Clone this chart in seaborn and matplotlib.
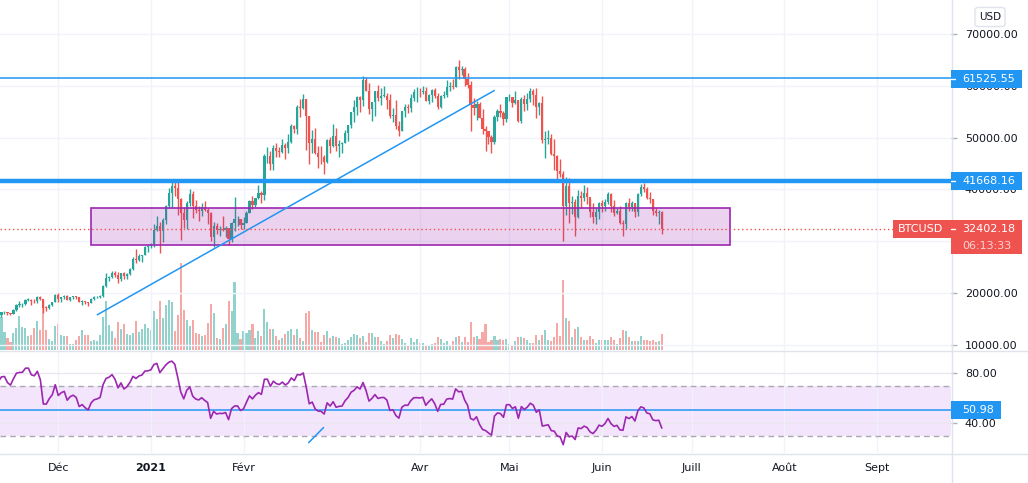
import numpy as np
import pandas as pd
import matplotlib
matplotlib.use("Agg")
import matplotlib.pyplot as plt
import matplotlib.dates as mdates
from matplotlib.patches import Rectangle, FancyBboxPatch
from matplotlib.lines import Line2D
import seaborn as sns

# ---------------- data ----------------
start_date = "2020-11-11"
first_open = 15300

closes = [
    15700, 16290, 16330, 16070, 15960, 16720, 17650, 17800, 17820, 18680,
    18710, 18410, 18370, 19150, 18750, 17150, 17140, 17720, 18180, 19700,
    # Dec
    18790, 19220, 19440, 18650, 19150, 19360, 19170, 18320, 18550, 18250,
    18030, 18800, 19170, 19270, 19440, 21380, 22800, 23130, 23860, 23480,
    22740, 23820, 23240, 23730, 24710, 26490, 26280, 27080, 27390, 28880, 28990,
    # Jan
    29400, 32200, 33000, 32030, 34030, 36820, 39370, 40670, 40240, 38240,
    35540, 34010, 37390, 39150, 36830, 36070, 35820, 36630, 36000, 35470,
    30850, 33000, 32100, 32290, 32250, 32500, 30400, 33450, 34270, 34300, 33100,
    # Feb
    33530, 35500, 37680, 36980, 38300, 39240, 38890, 46450, 46480, 44850,
    48000, 47400, 47200, 48600, 47950, 49150, 52150, 51600, 55900, 55800,
    57400, 54100, 48900, 49700, 47100, 46300, 46200, 45200,
    # Mar
    49600, 48450, 50350, 48370, 48750, 48880, 50970, 52380, 54880, 55850,
    57800, 57230, 61180, 59000, 55600, 56900, 58900, 57650, 58050, 58100,
    57350, 54080, 54340, 52300, 51300, 55050, 55850, 55800, 57600, 58760, 58800,
    # Apr
    58720, 58970, 57060, 58200, 59130, 57990, 56000, 58090, 58130, 59770,
    59980, 59860, 63580, 62960, 63160, 61330, 60060, 56200, 55680, 56500,
    53800, 51700, 51190, 50110, 49070, 54030, 55040, 54840, 53560, 57750,
    # May
    57830, 56630, 57200, 53240, 57500, 56430, 57380, 58930, 58280, 55860,
    56750, 49500, 49700, 49900, 46760, 46450, 43540, 42900, 36700, 40600,
    37300, 37500, 34700, 38800, 38400, 39300, 38450, 35700, 34600, 35680, 37300,
    # Jun
    36700, 37560, 39190, 36850, 35520, 35800, 33580, 33400, 37390, 36690,
    37340, 35550, 39020, 40530, 40140, 38350, 38090, 35820, 35480, 35600, 32402.18,
]

highs = [
    15960, 16350, 16490, 16340, 16150, 16880, 17850, 18480, 18150, 18800,
    18960, 18750, 18770, 19420, 19480, 18900, 17450, 17880, 18330, 19860,
    19920, 19300, 19550, 19520, 19170, 19420, 19400, 19280, 18640, 18550,
    18280, 18950, 19400, 19350, 19550, 21560, 23770, 23280, 24200, 24300,
    24100, 23840, 24150, 23800, 24780, 26870, 28420, 27500, 27400, 28990, 29320,
    29680, 33300, 34800, 33620, 34500, 36950, 40200, 41950, 41350, 41400,
    38300, 36600, 37850, 40100, 39700, 37900, 36800, 37400, 37850, 36400,
    35600, 33800, 33450, 32950, 34850, 32900, 32550, 33750, 38500, 34900, 34300,
    34700, 35900, 37900, 38700, 38300, 40900, 39700, 46800, 48200, 47350,
    48600, 48950, 48100, 49700, 49000, 50600, 52600, 52500, 56300, 57500,
    58350, 57500, 54200, 51400, 51900, 48300, 48400, 46600,
    49800, 50200, 52600, 51800, 49450, 49200, 51400, 52400, 54900, 57300,
    58100, 58000, 61800, 61700, 60600, 56900, 58950, 60100, 59500, 59900,
    58600, 58400, 55800, 57200, 53200, 55100, 56500, 56500, 58400, 59400, 59800,
    59500, 60000, 59800, 58500, 59300, 59500, 58650, 58150, 58900, 61200,
    60700, 61300, 63800, 64900, 63800, 63600, 62500, 61000, 57600, 57000,
    56800, 55500, 52200, 51200, 50500, 54400, 55500, 56400, 55200, 57900,
    58450, 57900, 58950, 57200, 57900, 58300, 58600, 59500, 59300, 59600,
    56900, 58000, 51300, 51500, 50700, 49800, 46600, 45800, 43500, 42400,
    42200, 38800, 38200, 39900, 39700, 40800, 40400, 38200, 37300, 36400, 37500,
    37900, 38200, 39500, 39300, 37900, 36400, 36800, 34100, 37500, 38400,
    37700, 37400, 39400, 41000, 41300, 40500, 39500, 38200, 36400, 36100, 35750,
]

lows = [
    15280, 15450, 15950, 15750, 15800, 15880, 16550, 17220, 17350, 17750,
    18400, 17650, 18000, 18100, 18580, 16200, 16500, 16880, 17530, 18180,
    18320, 18340, 18920, 18580, 18500, 18860, 18900, 18230, 17650, 17910,
    17570, 18000, 18730, 19000, 19050, 19300, 21250, 22350, 22800, 23080,
    21900, 22350, 22700, 22700, 23450, 24500, 25850, 26100, 25900, 27320, 27970,
    28650, 28950, 32000, 27700, 29900, 33400, 36350, 36500, 38700, 35100,
    30300, 32500, 32400, 36700, 34400, 35400, 33900, 34800, 35900, 33400,
    30100, 28800, 31400, 30950, 31950, 30850, 29250, 29900, 31950, 32850, 32300,
    32300, 33450, 35400, 36200, 36600, 38200, 37400, 38000, 45100, 43800,
    43700, 46200, 46200, 47050, 45900, 47100, 48950, 50900, 50700, 53900,
    55500, 47600, 44900, 47000, 46900, 44200, 45000, 43000,
    45100, 47100, 48200, 47500, 46300, 47100, 48900, 49300, 51900, 53000,
    54300, 55000, 56100, 59000, 54600, 53300, 54200, 57000, 56300, 57800,
    55500, 53700, 53000, 51700, 50400, 51300, 53900, 54700, 54900, 57000, 56800,
    57900, 58400, 57000, 56500, 56800, 57600, 55500, 55800, 57650, 57900,
    59000, 59400, 59800, 61300, 62000, 60000, 59600, 51300, 54300, 53400,
    53700, 50600, 47500, 48800, 47000, 48800, 53300, 53900, 52400, 53100,
    57000, 56000, 56500, 53100, 52900, 55200, 55300, 56900, 56300, 53700,
    54400, 48900, 46000, 48800, 46600, 43800, 42100, 42300, 30000, 35000,
    33500, 35300, 31100, 34400, 36500, 37800, 37200, 34700, 33600, 33400, 34200,
    35700, 35900, 37200, 35600, 34800, 35300, 33400, 31000, 32400, 35800,
    35900, 34600, 34800, 38700, 39500, 38100, 37400, 35100, 34800, 33350, 31300,
]

# relative volume (bar heights)
volumes = [
    25,
    33, 18, 12, 8, 17, 22, 34, 23, 22, 14, 15, 22, 29, 20, 48, 20, 11, 9, 24,
    26, 15, 14, 14, 6, 6, 10, 14, 20, 15, 15, 9, 10, 9, 15, 33, 49, 25, 19, 12,
    28, 21, 26, 16, 15, 17, 29, 18, 21, 26, 22,
    20, 39, 31, 49, 32, 45, 50,
    48, 19, 35, 87, 40, 30, 24, 30, 17, 16, 14, 15, 27, 46, 37, 12, 11, 22, 26,
    49, 39, 68, 17, 11,
    19, 17, 20, 26, 12, 19, 14, 41, 28, 21, 21, 14, 10, 12, 16, 19, 21, 15, 21,
    12, 9, 37, 39, 20, 18, 18, 8, 15,
    19, 12, 14, 13,
    12, 6, 7, 10, 13, 16, 15, 12, 14, 8, 17, 17, 13, 13, 9, 6, 9, 15, 12, 16,
    15, 11, 7, 5, 12, 8, 11,
    7, 7, 5, 4, 6, 7, 13, 11, 7, 9, 5, 9, 13, 14, 8, 13, 8, 28, 13, 14, 11, 18,
    26, 8, 10, 14, 10, 11, 10,
    11,
    6, 5, 9, 13, 13, 12, 10, 7, 7, 15, 10, 15, 20, 10, 9, 13, 27, 14, 70, 32,
    29, 13, 21, 23, 13, 10, 10, 14, 11, 7, 10,
    10, 10, 10, 13, 10, 6, 12, 20, 19, 13, 9, 9, 9, 14, 10, 10, 9, 10, 8, 9, 16,
]

# closes before the visible window (Oct 1 - Nov 10 2020), used only for RSI warm-up
warmup_closes = [
    10620, 10570, 10550, 10670, 10790, 10600, 10670, 10920, 11060, 11300,
    11380, 11540, 11430, 11430, 11500, 11320, 11360, 11500, 11750, 11920,
    12820, 12990, 12930, 13120, 13040, 13070, 13650, 13280, 13460, 13560,
    13800, 13760, 13550, 14030, 14150, 15590, 15590, 14840, 15480, 15330, 15300,
]

level_lines = [61525.55, 41668.16]
last_price = 32402.18
rsi_level = 50.98
zone_dates = ["2020-12-12 02:00", "2021-07-13 17:00"]
zone_prices = [29210, 36350]
trend_dates = ["2020-12-13 22:00", "2021-04-26 02:00"]
trend_prices = [15750, 59130]
rsi_seg_dates = ["2021-02-22 19:00", "2021-02-27 19:00"]
rsi_seg_values = [24.5, 36.6]

price_grid = [10000, 20000, 30000, 40000, 50000, 60000, 70000]
price_ticks = [10000, 20000, 40000, 50000, 60000, 70000]
rsi_ticks = [40, 80]
month_tick_dates = ["2020-12-01", "2021-01-01", "2021-02-01", "2021-04-01", "2021-05-01",
                    "2021-06-01", "2021-07-01", "2021-08-01", "2021-09-01"]
month_tick_labels = ["Déc", "2021", "Févr", "Avr", "Mai", "Juin", "Juill", "Août", "Sept"]

# ---------------- style ----------------
sns.set_theme(style="white")
plt.rcParams["font.family"] = ["DejaVu Sans"]

UP = "#26a69a"
DN = "#ef5350"
BLUE = "#2196f3"
PURPLE = "#9c27b0"
GRID = "#f0f3fa"
SEP = "#e0e3eb"
TXT = "#131722"

W, H = 1028, 483
def fx(x):
    return x / W
def fy(y):
    return 1 - y / H

fig = plt.figure(figsize=(W / 100, H / 100), dpi=100)
fig.patch.set_facecolor("white")

dates = pd.date_range(start_date, periods=len(closes), freq="D")
xd = mdates.date2num(dates)
c = np.array(closes, dtype=float)
o = np.array([first_open] + closes[:-1], dtype=float)
h = np.array(highs, dtype=float)
l = np.array(lows, dtype=float)
up = c >= o

xlim = (mdates.date2num(pd.Timestamp("2020-12-01")) - 19.5,
        mdates.date2num(pd.Timestamp("2020-12-01")) + 298.8)
mticks = mdates.date2num(pd.to_datetime(month_tick_dates))

# ---------------- main price pane ----------------
rect_main = [0, fy(350), fx(951), 350 / H]
ax = fig.add_axes(rect_main)
axv = ax.twinx()
ax.set_zorder(axv.get_zorder() + 1)
ax.patch.set_visible(False)
axv.patch.set_facecolor("white")

vol_colors = np.where(up, UP + "80", DN + "80")
axv.bar(xd, volumes, width=0.7, color=vol_colors, linewidth=0)
axv.set_ylim(0, 350)
axv.set_yticks([])
for s in axv.spines.values():
    s.set_visible(False)

colors = np.where(up, UP, DN)
ax.vlines(xd, l, h, colors=colors, linewidth=1.0, zorder=3)
body_bottom = np.minimum(o, c)
body_h = np.maximum(np.abs(c - o), 80)
ax.bar(xd, body_h, bottom=body_bottom, width=0.74, color=colors, linewidth=0, zorder=4)

ax.set_xlim(*xlim)
axv.set_xlim(*xlim)
ax.set_ylim(8996, 76564)

for m in mticks:
    ax.axvline(m, color=GRID, lw=1, zorder=0)
for p in price_grid:
    ax.axhline(p, color=GRID, lw=1, zorder=0)

# zone box
zx = mdates.date2num(pd.to_datetime(zone_dates))
ax.add_patch(Rectangle((zx[0], zone_prices[0]), zx[1] - zx[0], zone_prices[1] - zone_prices[0],
                       facecolor=(156 / 255, 39 / 255, 176 / 255, 0.2), edgecolor=PURPLE,
                       linewidth=1.2, zorder=5))
# trend line
tx = mdates.date2num(pd.to_datetime(trend_dates))
ax.plot(tx, trend_prices, color=BLUE, lw=1.1, zorder=6, solid_capstyle="butt")
# horizontal levels
ax.axhline(level_lines[0], color=BLUE, lw=1.1, zorder=6)
ax.axhline(level_lines[1], color=BLUE, lw=3.2, zorder=6)
ax.axhline(last_price, color=DN, lw=1, ls=(0, (1, 2)), zorder=6)

ax.set_xticks(mticks)
ax.tick_params(axis="x", length=0, labelbottom=False)
ax.yaxis.tick_right()
ax.set_yticks(price_ticks)
ax.set_yticklabels([f"{p:.2f}" for p in price_ticks])
ax.tick_params(axis="y", right=True, left=False, labelright=True, labelleft=False,
               length=4, width=1, color="#b2b5be", pad=6, labelsize=8, labelcolor=TXT)
for s in ax.spines.values():
    s.set_visible(False)
ax.grid(False)

# ---------------- RSI pane ----------------
ax2 = fig.add_axes([0, fy(453), fx(951), (453 - 351) / H])
ax2.set_facecolor("white")
ax2.axhspan(30, 70, color="#f3e5fb", lw=0, zorder=0)
for m in mticks:
    ax2.axvline(m, color=GRID, lw=1, zorder=0.5)
for t in rsi_ticks:
    ax2.axhline(t, color="#ebe6f0", lw=1, zorder=0.5)
ax2.axhline(70, color="#a9a9b3", lw=1, ls=(0, (4, 3)), zorder=1)
ax2.axhline(30, color="#a9a9b3", lw=1, ls=(0, (4, 3)), zorder=1)
ax2.axhline(rsi_level, color=BLUE, lw=1.1, zorder=2)

all_c = pd.Series(warmup_closes + closes, dtype=float)
delta = all_c.diff()
gain = delta.clip(lower=0).ewm(alpha=1 / 14, adjust=False).mean()
loss = (-delta.clip(upper=0)).ewm(alpha=1 / 14, adjust=False).mean()
rsi = (100 - 100 / (1 + gain / loss)).iloc[len(warmup_closes):].to_numpy()
rsi_df = pd.DataFrame({"x": xd, "rsi": rsi})
sns.lineplot(data=rsi_df, x="x", y="rsi", ax=ax2, color=PURPLE, linewidth=1.2, zorder=3)

sx = mdates.date2num(pd.to_datetime(rsi_seg_dates))
ax2.plot(sx, rsi_seg_values, color=BLUE, lw=1.1, zorder=4)

ax2.set_xlim(*xlim)
ax2.set_ylim(16.24, 97.84)
ax2.set_xlabel("")
ax2.set_ylabel("")
ax2.set_xticks(mticks)
ax2.set_xticklabels(month_tick_labels)
ax2.tick_params(axis="x", length=0, pad=7, labelsize=8, labelcolor=TXT)
for lab in ax2.get_xticklabels():
    if lab.get_text() == "2021":
        lab.set_fontweight("bold")
ax2.yaxis.tick_right()
ax2.set_yticks(rsi_ticks)
ax2.set_yticklabels([f"{t:.2f}" for t in rsi_ticks])
ax2.tick_params(axis="y", right=True, left=False, labelright=True, labelleft=False,
                length=4, width=1, color="#b2b5be", pad=6, labelsize=8, labelcolor=TXT)
for s in ax2.spines.values():
    s.set_visible(False)
ax2.grid(False)

# ---------------- separators ----------------
fig.add_artist(Line2D([0, 1], [fy(350.5), fy(350.5)], transform=fig.transFigure, color=SEP, lw=1))
fig.add_artist(Line2D([0, 1], [fy(453.5), fy(453.5)], transform=fig.transFigure, color=SEP, lw=1))
fig.add_artist(Line2D([fx(951.5), fx(951.5)], [0, 1], transform=fig.transFigure, color=SEP, lw=1))

# ---------------- price labels ----------------
def box(x0, y0, x1, y1, color, zorder=10):
    fig.add_artist(Rectangle((fx(x0), fy(y1)), fx(x1) - fx(x0), (y1 - y0) / H,
                             transform=fig.transFigure, facecolor=color, edgecolor="none",
                             zorder=zorder))

def label(x, y, s, color="white", ha="left", size=8, weight="normal"):
    fig.text(fx(x), fy(y), s, color=color, ha=ha, va="center", fontsize=size,
             fontweight=weight, zorder=12)

def dash(y):
    fig.add_artist(Line2D([fx(951), fx(955)], [fy(y), fy(y)], transform=fig.transFigure,
                          color="white", lw=1, zorder=11))

box(951, 70, 1022, 87.5, BLUE)
dash(78.5)
label(962, 78.8, f"{level_lines[0]:.2f}")

box(951, 172, 1022, 190, BLUE)
dash(181)
label(962, 181.3, f"{level_lines[1]:.2f}")

box(893, 220.5, 1022, 238, DN)
box(951, 238, 1022, 254, DN)
dash(229.2)
label(898, 229.5, "BTCUSD")
label(962, 229.5, f"{last_price:.2f}")
label(962, 246.3, "06:13:33", color="#fcd3d2")

box(951, 401, 1001, 419, BLUE)
label(962, 410.3, f"{rsi_level:.2f}")

fig.add_artist(FancyBboxPatch((fx(975), fy(26.5)), fx(1005) - fx(975), 19 / H,
                              boxstyle="round,pad=0,rounding_size=0.004",
                              transform=fig.transFigure, facecolor="white",
                              edgecolor=SEP, lw=1, zorder=10))
label(990, 17, "USD", color=TXT, ha="center", size=7.5)

fig.savefig("out.png", dpi=100, facecolor="white")
